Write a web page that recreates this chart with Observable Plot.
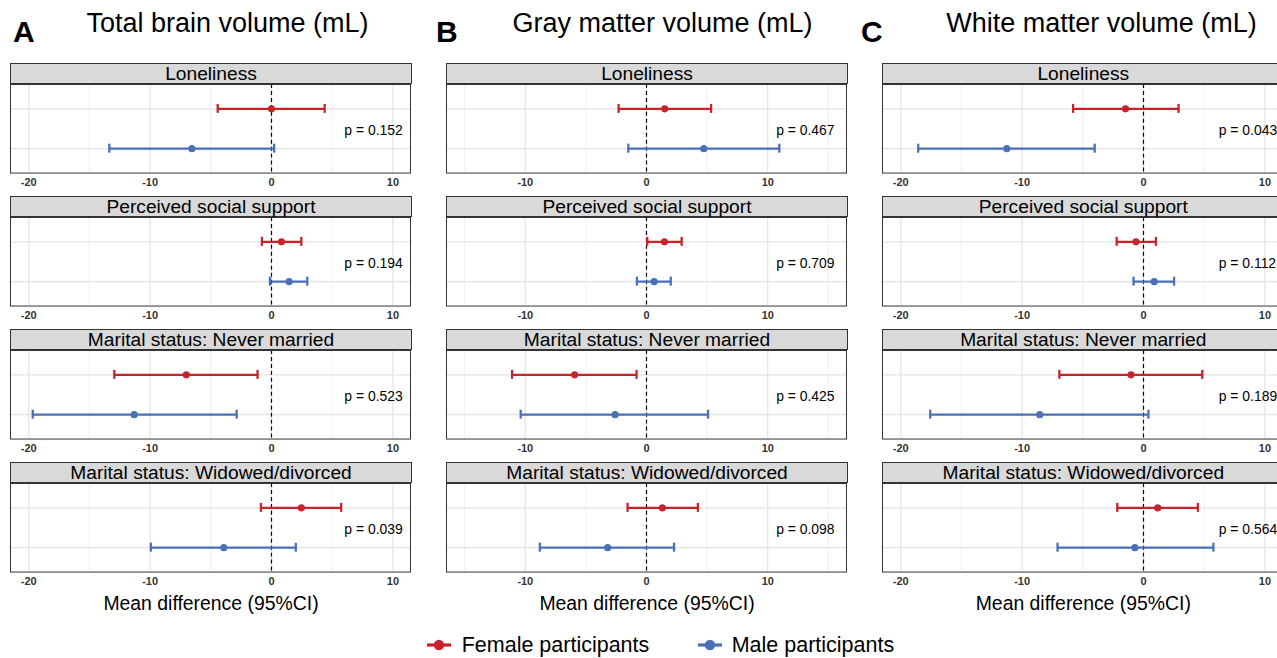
<!DOCTYPE html>
<html><head><meta charset="utf-8">
<script src="https://cdn.jsdelivr.net/npm/d3@7"></script>
<script src="https://cdn.jsdelivr.net/npm/@observablehq/plot@0.6"></script>
<style>
html,body{margin:0;padding:0;background:#fff;}
#root{position:relative;width:1277px;height:658px;overflow:hidden;font-family:"Liberation Sans",Arial,Helvetica,sans-serif;color:#000;}
.abs{position:absolute;white-space:nowrap;line-height:1;}
.panel{position:absolute;width:402px;height:135px;}
.strip{position:absolute;left:0;top:0;width:402px;height:21px;box-sizing:border-box;background:#d9d9d9;border:1px solid #333;text-align:center;font-size:19.2px;line-height:19px;white-space:nowrap;}
.panel svg{position:absolute;left:-1px;top:20px;}
</style></head><body><div id="root"></div>
<script>
// ---- data ----
const letters = ["A", "B", "C"];
const outcomes = ["Total brain volume (mL)", "Gray matter volume (mL)", "White matter volume (mL)"];
const exposures = ["Loneliness", "Perceived social support", "Marital status: Never married", "Marital status: Widowed/divorced"];
const groups = ["Female participants", "Male participants"];
// rows: outcome (A,B,C); columns: exposure
const femaleEst = [[0.0, 0.82, -7.02, 2.46], [1.5, 1.48, -5.93, 1.31], [-1.48, -0.62, -1.03, 1.17]];
const femaleLo  = [[-4.43, -0.79, -12.95, -0.87], [-2.3, 0.06, -11.09, -1.56], [-5.8, -2.21, -6.93, -2.16]];
const femaleHi  = [[4.38, 2.46, -1.15, 5.74], [5.33, 2.9, -0.82, 4.24], [2.89, 1.02, 4.84, 4.48]];
const maleEst   = [[-6.56, 1.45, -11.31, -3.93], [4.73, 0.63, -2.59, -3.2], [-11.26, 0.88, -8.55, -0.71]];
const maleLo    = [[-13.36, -0.13, -19.67, -9.94], [-1.5, -0.79, -10.38, -8.8], [-18.56, -0.82, -17.57, -7.08]];
const maleHi    = [[0.22, 2.95, -2.87, 2.0], [10.96, 2.0, 5.08, 2.27], [-4.02, 2.52, 0.41, 5.76]];
const pValues   = [["0.152", "0.194", "0.523", "0.039"], ["0.467", "0.709", "0.425", "0.098"], ["0.043", "0.112", "0.189", "0.564"]];
const xTicks    = [[-20, -10, 0, 10], [-10, 0, 10], [-20, -10, 0, 10]];
const xMinor    = [[-15, -5, 5], [-15, -5, 5, 15], [-15, -5, 5]];
const axisTitle = "Mean difference (95%CI)";

// ---- layout / style ----
const colors = ["#c8222b", "#4a70b8"];
const xDomains = [[-21.5, 11.45], [-16.5, 16.5], [-21.5, 11.45]];
const pX = [6.0, 10.7, 6.2];
const colLeft = [10, 446, 882.3];
const rowTop = 63, rowStep = 133;
const font = '"Liberation Sans", Arial, Helvetica, sans-serif';

const root = document.getElementById("root");
function addText(txt, left, top, size, opts = {}) {
  const d = document.createElement("div");
  d.className = "abs";
  d.textContent = txt;
  d.style.left = left + "px";
  d.style.top = top + "px";
  d.style.fontSize = size + "px";
  if (opts.bold) d.style.fontWeight = "bold";
  if (opts.center) d.style.transform = "translateX(-50%)";
  root.appendChild(d);
  return d;
}

const letterLeft = [13, 436, 861];
const titleCenter = [227.5, 662.5, 1101.5];
for (let c = 0; c < 3; c++) {
  addText(letters[c], letterLeft[c], 42.7 - 0.8465 * 30, 30, {bold: true});
  addText(outcomes[c], titleCenter[c], 33.3 - 0.8465 * 27, 27, {center: true});
  addText(axisTitle, colLeft[c] + 201, 610 - 0.8465 * 19.4, 19.4, {center: true});

  for (let r = 0; r < 4; r++) {
    const panel = document.createElement("div");
    panel.className = "panel";
    panel.style.left = colLeft[c] + "px";
    panel.style.top = (rowTop + r * rowStep) + "px";
    const strip = document.createElement("div");
    strip.className = "strip";
    strip.textContent = exposures[r];
    panel.appendChild(strip);

    const rows = [
      {group: groups[0], est: femaleEst[c][r], lo: femaleLo[c][r], hi: femaleHi[c][r]},
      {group: groups[1], est: maleEst[c][r], lo: maleLo[c][r], hi: maleHi[c][r]}
    ];
    const svg = Plot.plot({
      width: 404, height: 115,
      marginLeft: 1, marginRight: 1, marginTop: 1, marginBottom: 25,
      style: {background: "transparent", fontFamily: font, fontSize: "11px", overflow: "visible"},
      x: {domain: xDomains[c]},
      y: {type: "band", domain: groups, paddingInner: 0.78, paddingOuter: 0.49, axis: null},
      color: {domain: groups, range: colors},
      marks: [
        Plot.gridX(xMinor[c], {stroke: "#ebebeb", strokeOpacity: 1, strokeWidth: 0.8}),
        Plot.gridX(xTicks[c], {stroke: "#e3e3e3", strokeOpacity: 1, strokeWidth: 1.2}),
        Plot.ruleY(groups, {y: d => d, stroke: "#e3e3e3", strokeWidth: 1.2}),
        Plot.ruleX([0], {stroke: "#000", strokeDasharray: "4,3", strokeWidth: 1.2}),
        Plot.ruleY(rows, {y: "group", x1: "lo", x2: "hi", stroke: "group", strokeWidth: 2.3}),
        Plot.tickX(rows, {x: "lo", y: "group", stroke: "group", strokeWidth: 2.3}),
        Plot.tickX(rows, {x: "hi", y: "group", stroke: "group", strokeWidth: 2.3}),
        Plot.dot(rows, {x: "est", y: "group", fill: "group", r: 3.6}),
        Plot.text([`p = ${pValues[c][r]}`], {x: () => pX[c], frameAnchor: "right", text: d => d, textAnchor: "start", dy: 1.5, fontSize: 14, fill: "#000"}),
        Plot.frame({stroke: "#333", strokeWidth: 1}),
        Plot.axisX({ticks: xTicks[c], tickFormat: d => String(d), tickSize: 0, tickPadding: 5, fontWeight: "bold", fontSize: 11, fill: "#333", label: null})
      ]
    });
    panel.appendChild(svg);
    root.appendChild(panel);
  }
}

// legend
const legendItems = [
  {label: groups[0], color: colors[0], symLeft: 426.7, textLeft: 461.7},
  {label: groups[1], color: colors[1], symLeft: 698, textLeft: 731.7}
];
const legendBaseline = 653;
for (const it of legendItems) {
  const ns = "http://www.w3.org/2000/svg";
  const s = document.createElementNS(ns, "svg");
  s.setAttribute("width", 26); s.setAttribute("height", 14);
  s.style.position = "absolute";
  s.style.left = (it.symLeft - 1) + "px";
  s.style.top = (legendBaseline - 8 - 7) + "px";
  const l = document.createElementNS(ns, "line");
  l.setAttribute("x1", 1); l.setAttribute("x2", 25); l.setAttribute("y1", 7); l.setAttribute("y2", 7);
  l.setAttribute("stroke", it.color); l.setAttribute("stroke-width", 3.2);
  const ci = document.createElementNS(ns, "circle");
  ci.setAttribute("cx", 13); ci.setAttribute("cy", 7); ci.setAttribute("r", 5.2); ci.setAttribute("fill", it.color);
  s.appendChild(l); s.appendChild(ci);
  root.appendChild(s);
  addText(it.label, it.textLeft, legendBaseline - 0.8465 * 21.5, 21.5);
}
</script></body></html>
